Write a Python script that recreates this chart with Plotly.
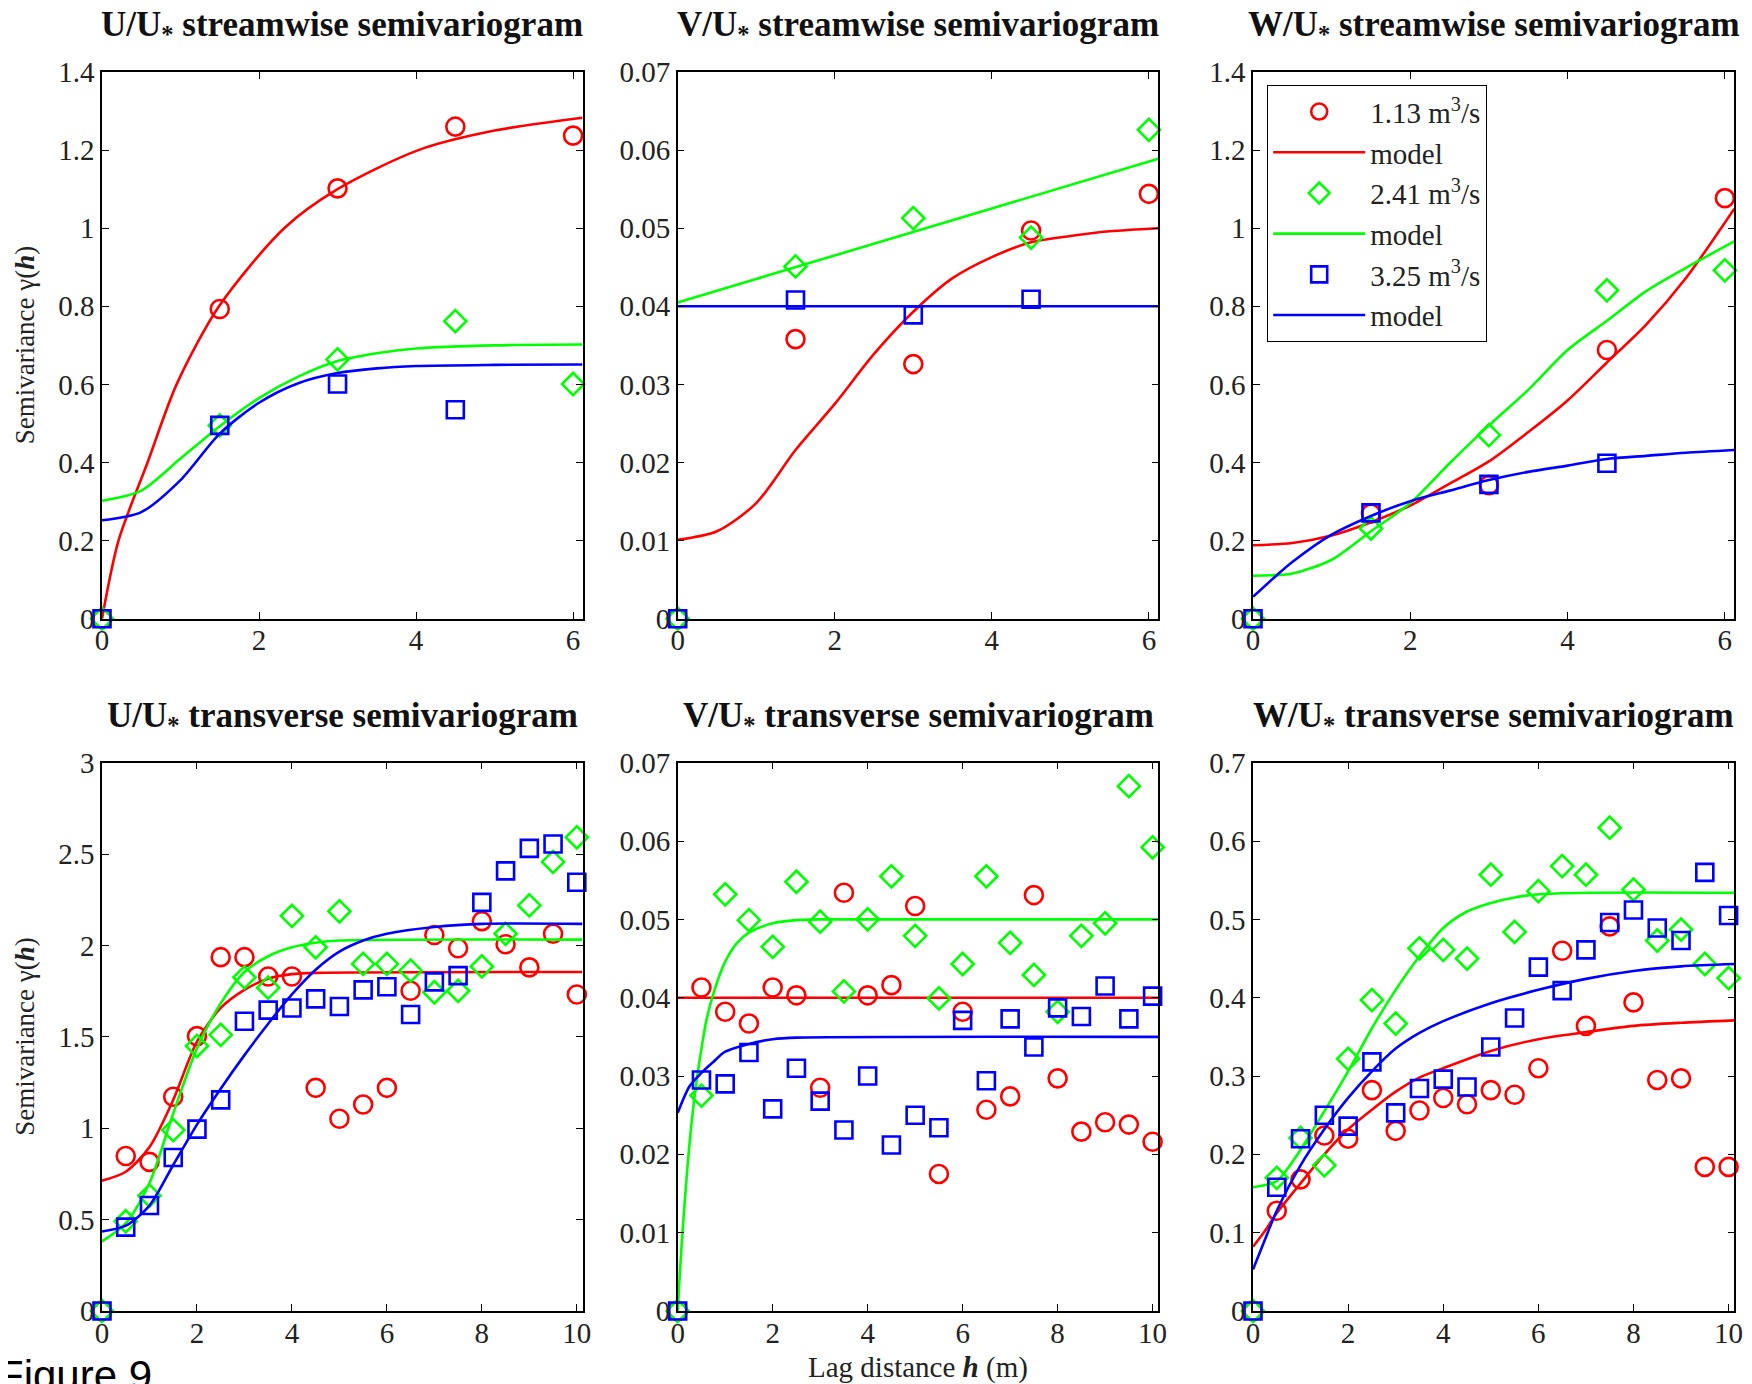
import plotly.graph_objects as go

# ---------------- data ----------------
lag_s = [0, 1.5, 3, 4.5, 6]          # streamwise lags (m)
lag_t = [0, 0.5, 1, 1.5, 2, 2.5, 3, 3.5, 4, 4.5, 5, 5.5, 6, 6.5, 7, 7.5, 8, 8.5, 9, 9.5, 10]

series_names = ["1.13 m<sup>3</sup>/s", "2.41 m<sup>3</sup>/s", "3.25 m<sup>3</sup>/s"]

# U/U* streamwise
u_s_red = [0, 0.793, 1.102, 1.26, 1.237]
u_s_green = [0, 0.495, 0.664, 0.762, 0.601]
u_s_blue = [0, 0.495, 0.601, 0.535]
u_s_red_mh = [0, 0.21, 0.58, 0.95, 1.49, 2.32, 3.0, 4.03, 5.0, 6.12]
u_s_red_m = [0, 0.2, 0.4, 0.6, 0.8, 1.0, 1.1, 1.2, 1.25, 1.283]
u_s_green_mh = [0, 0.5, 1.0, 1.5, 2.0, 2.5, 3.0, 3.5, 4.0, 5.0, 6.12]
u_s_green_m = [0.302, 0.328, 0.410, 0.493, 0.565, 0.620, 0.660, 0.680, 0.692, 0.700, 0.702]
u_s_blue_mh = [0, 0.5, 1.0, 1.5, 2.0, 2.5, 3.0, 3.5, 4.0, 5.0, 6.12]
u_s_blue_m = [0.252, 0.273, 0.355, 0.474, 0.553, 0.603, 0.629, 0.641, 0.647, 0.650, 0.651]

# V/U* streamwise
v_s_red = [0, 0.0358, 0.0326, 0.0497, 0.0544]
v_s_green = [0, 0.0451, 0.0513, 0.0488, 0.0626]
v_s_blue = [0, 0.0408, 0.0389, 0.0409]
v_s_red_mh = [0, 0.5, 1.0, 1.5, 2.0, 2.5, 3.0, 3.5, 4.0, 4.5, 5.0, 5.5, 6.12]
v_s_red_m = [0.0101, 0.0112, 0.0148, 0.0216, 0.0275, 0.0339, 0.0393, 0.0436, 0.0463, 0.0482, 0.0490, 0.0496, 0.0500]
v_s_green_mh = [0, 6.12]
v_s_green_m = [0.0405, 0.0589]
v_s_blue_mh = [0, 6.12]
v_s_blue_m = [0.0400, 0.0400]

# W/U* streamwise
w_s_red = [0, 0.269, 0.342, 0.688, 1.077]
w_s_green = [0, 0.231, 0.470, 0.841, 0.892]
w_s_blue = [0, 0.271, 0.344, 0.398]
w_s_red_mh = [0, 0.5, 1.0, 1.5, 2.0, 2.5, 3.0, 3.5, 4.0, 4.5, 5.0, 5.5, 6.12]
w_s_red_m = [0.188, 0.194, 0.213, 0.247, 0.290, 0.346, 0.403, 0.478, 0.559, 0.656, 0.753, 0.871, 1.050]
w_s_green_mh = [0, 0.5, 1.0, 1.5, 2.0, 2.5, 3.0, 3.5, 4.0, 4.5, 5.0, 5.5, 6.12]
w_s_green_m = [0.110, 0.116, 0.151, 0.224, 0.296, 0.398, 0.495, 0.586, 0.688, 0.763, 0.839, 0.898, 0.966]
w_s_blue_mh = [0, 0.25, 0.5, 1.0, 1.5, 2.0, 2.5, 3.0, 3.5, 4.0, 4.5, 5.0, 5.5, 6.12]
w_s_blue_m = [0.056, 0.102, 0.145, 0.215, 0.263, 0.301, 0.328, 0.355, 0.376, 0.392, 0.409, 0.417, 0.425, 0.432]

# U/U* transverse
u_t_red = [0, 0.848, 0.816, 1.172, 1.504, 1.936, 1.936, 1.830, 1.830, 1.221, 1.052, 1.130, 1.221, 1.752, 2.057, 1.985, 2.133, 2.007, 1.880, 2.064, 1.732]
u_t_green = [0, 0.491, 0.631, 0.990, 1.450, 1.511, 1.826, 1.769, 2.162, 1.990, 2.187, 1.899, 1.899, 1.862, 1.744, 1.752, 1.885, 2.064, 2.219, 2.457, 2.592]
u_t_blue = [0, 0.459, 0.577, 0.840, 0.995, 1.155, 1.585, 1.646, 1.658, 1.708, 1.666, 1.757, 1.774, 1.622, 1.801, 1.835, 2.236, 2.408, 2.531, 2.555, 2.346]
u_t_red_mh = [0, 0.5, 1.0, 1.5, 2.0, 2.5, 3.0, 3.5, 4.0, 4.5, 10.12]
u_t_red_m = [0.713, 0.762, 0.897, 1.155, 1.474, 1.658, 1.757, 1.818, 1.843, 1.850, 1.855]
u_t_green_mh = [0, 0.5, 1.0, 1.5, 2.0, 2.5, 3.0, 3.5, 4.0, 4.5, 5.0, 10.12]
u_t_green_m = [0.381, 0.479, 0.700, 1.081, 1.437, 1.683, 1.855, 1.941, 1.990, 2.015, 2.027, 2.032]
u_t_blue_mh = [0, 0.5, 1.0, 1.5, 2.0, 2.5, 3.0, 3.5, 4.0, 4.5, 5.0, 5.5, 6.0, 7.0, 8.0, 10.12]
u_t_blue_m = [0.435, 0.467, 0.577, 0.799, 1.020, 1.216, 1.400, 1.572, 1.732, 1.867, 1.966, 2.027, 2.064, 2.101, 2.118, 2.118]

# V/U* transverse
v_t_red = [0, 0.0413, 0.0382, 0.0367, 0.0413, 0.0403, 0.0285, 0.0534, 0.0403, 0.0416, 0.0517, 0.0175, 0.0382, 0.0257, 0.0274, 0.0531, 0.0297, 0.0229, 0.0241, 0.0238, 0.0216]
v_t_green = [0, 0.0275, 0.0532, 0.0499, 0.0465, 0.0548, 0.0497, 0.0408, 0.0500, 0.0555, 0.0479, 0.0399, 0.0443, 0.0555, 0.0470, 0.0429, 0.0382, 0.0479, 0.0495, 0.0670, 0.0592]
v_t_blue = [0, 0.0295, 0.0290, 0.0330, 0.0258, 0.0310, 0.0268, 0.0231, 0.0300, 0.0212, 0.0250, 0.0234, 0.0371, 0.0294, 0.0373, 0.0337, 0.0387, 0.0376, 0.0415, 0.0373, 0.0402]
v_t_red_mh = [0, 10.12]
v_t_red_m = [0.0400, 0.0400]
v_t_green_mh = [0, 0.05, 0.1, 0.2, 0.3, 0.4, 0.5, 0.6, 0.75, 1.0, 1.25, 1.5, 2.0, 2.5, 3.0, 10.12]
v_t_green_m = [0, 0.0053, 0.0100, 0.0180, 0.0245, 0.0295, 0.0335, 0.0370, 0.0405, 0.0446, 0.0470, 0.0483, 0.0495, 0.0499, 0.0500, 0.0500]
v_t_blue_mh = [0, 0.25, 0.5, 0.75, 1.0, 1.5, 2.0, 2.5, 10.12]
v_t_blue_m = [0.0253, 0.0287, 0.0304, 0.0318, 0.0331, 0.0341, 0.0347, 0.0349, 0.0350]

# W/U* transverse
w_t_red = [0, 0.128, 0.168, 0.224, 0.220, 0.282, 0.230, 0.256, 0.272, 0.264, 0.282, 0.276, 0.310, 0.460, 0.364, 0.491, 0.394, 0.295, 0.297, 0.184, 0.184]
w_t_green = [0, 0.170, 0.221, 0.186, 0.322, 0.397, 0.367, 0.463, 0.461, 0.450, 0.557, 0.484, 0.536, 0.568, 0.557, 0.617, 0.538, 0.473, 0.487, 0.443, 0.425]
w_t_blue = [0, 0.158, 0.220, 0.250, 0.236, 0.318, 0.253, 0.284, 0.296, 0.286, 0.337, 0.374, 0.439, 0.409, 0.461, 0.496, 0.512, 0.489, 0.473, 0.560, 0.505]
w_t_red_mh = [0, 0.25, 0.5, 1.0, 1.5, 2.0, 2.5, 3.0, 3.5, 4.0, 5.0, 6.0, 7.0, 8.0, 9.0, 10.12]
w_t_red_m = [0.082, 0.102, 0.125, 0.163, 0.200, 0.232, 0.257, 0.280, 0.298, 0.310, 0.332, 0.347, 0.356, 0.364, 0.368, 0.371]
w_t_green_mh = [0, 0.5, 1.0, 1.5, 2.0, 2.5, 3.0, 3.5, 4.0, 4.5, 5.0, 5.5, 6.0, 7.0, 10.12]
w_t_green_m = [0.158, 0.166, 0.206, 0.255, 0.306, 0.361, 0.410, 0.453, 0.489, 0.510, 0.521, 0.528, 0.532, 0.534, 0.534]
w_t_blue_mh = [0, 0.25, 0.5, 1.0, 1.5, 2.0, 2.5, 3.0, 3.5, 4.0, 5.0, 6.0, 7.0, 8.0, 9.0, 10.12]
w_t_blue_m = [0.053, 0.091, 0.128, 0.186, 0.232, 0.272, 0.306, 0.335, 0.355, 0.370, 0.393, 0.410, 0.424, 0.434, 0.440, 0.443]

titles = ["U/U<sub>*</sub> streamwise semivariogram", "V/U<sub>*</sub> streamwise semivariogram",
          "W/U<sub>*</sub> streamwise semivariogram", "U/U<sub>*</sub> transverse semivariogram",
          "V/U<sub>*</sub> transverse semivariogram", "W/U<sub>*</sub> transverse semivariogram"]
y_max = [1.4, 0.07, 1.4, 3, 0.07, 0.7]
y_dtick = [0.2, 0.01, 0.2, 0.5, 0.01, 0.1]
x_max = [6.12, 6.12, 6.12, 10.12, 10.12, 10.12]

panels = [
    (lag_s, [u_s_red, u_s_green, u_s_blue],
     [(u_s_red_mh, u_s_red_m), (u_s_green_mh, u_s_green_m), (u_s_blue_mh, u_s_blue_m)]),
    (lag_s, [v_s_red, v_s_green, v_s_blue],
     [(v_s_red_mh, v_s_red_m), (v_s_green_mh, v_s_green_m), (v_s_blue_mh, v_s_blue_m)]),
    (lag_s, [w_s_red, w_s_green, w_s_blue],
     [(w_s_red_mh, w_s_red_m), (w_s_green_mh, w_s_green_m), (w_s_blue_mh, w_s_blue_m)]),
    (lag_t, [u_t_red, u_t_green, u_t_blue],
     [(u_t_red_mh, u_t_red_m), (u_t_green_mh, u_t_green_m), (u_t_blue_mh, u_t_blue_m)]),
    (lag_t, [v_t_red, v_t_green, v_t_blue],
     [(v_t_red_mh, v_t_red_m), (v_t_green_mh, v_t_green_m), (v_t_blue_mh, v_t_blue_m)]),
    (lag_t, [w_t_red, w_t_green, w_t_blue],
     [(w_t_red_mh, w_t_red_m), (w_t_green_mh, w_t_green_m), (w_t_blue_mh, w_t_blue_m)]),
]

# ---------------- style ----------------
OFF = 8                      # page body margin of the html page
W, H = 1752 - OFF, 1384 - OFF


def px_x(p):
    return (p - OFF) / W


def px_y(p):
    return 1 - (p - OFF) / H


colors = ["#FF0000", "#00FF00", "#0000FF"]
symbols = ["circle-open", "diamond-open", "square-open"]
msizes = [18, 17, 17]
SERIF = "Liberation Serif"

col_px = [(102, 582.5), (677.7, 1158.3), (1253, 1734.3)]
row_px = [(72, 618.7), (762.7, 1311)]

fig = go.Figure()
layout = dict()
annotations = []

for i, (lags, pts, models) in enumerate(panels):
    r, c = divmod(i, 3)
    n = i + 1
    xa = "x" if n == 1 else f"x{n}"
    ya = "y" if n == 1 else f"y{n}"
    for k in range(3):
        xs = lags[:len(pts[k])]
        fig.add_trace(go.Scatter(
            x=xs, y=pts[k], mode="markers", xaxis=xa, yaxis=ya,
            marker=dict(symbol=symbols[k], size=msizes[k], color=colors[k],
                        line=dict(width=2.6, color=colors[k])),
            cliponaxis=False, name=series_names[k],
            showlegend=(n == 3)))
        mh, mv = models[k]
        fig.add_trace(go.Scatter(
            x=mh, y=mv, mode="lines", xaxis=xa, yaxis=ya,
            line=dict(color=colors[k], width=2.6, shape="spline", smoothing=0.8),
            name="model", showlegend=(n == 3)))

    x0, x1 = col_px[c]
    y0, y1 = row_px[r]
    axcommon = dict(showline=True, linecolor="black", linewidth=1.5, mirror="allticks",
                    ticks="inside", ticklen=7, tickwidth=1.2, tickcolor="black",
                    showgrid=False, zeroline=False, automargin=False,
                    tickfont=dict(family=SERIF, size=29, color="#222222"))
    layout["xaxis" if n == 1 else f"xaxis{n}"] = dict(
        domain=[px_x(x0), px_x(x1)], range=[0, x_max[i]], dtick=2, tick0=0,
        anchor=ya, ticklabelstandoff=-5, **axcommon)
    layout["yaxis" if n == 1 else f"yaxis{n}"] = dict(
        domain=[px_y(y1), px_y(y0)], range=[0, y_max[i]], dtick=y_dtick[i], tick0=0,
        anchor=xa, **axcommon)

    ty = 27 if r == 0 else 717
    annotations.append(dict(
        text="<b>" + titles[i] + "</b>", x=px_x((x0 + x1) / 2), y=px_y(ty),
        xref="paper", yref="paper", xanchor="center", yanchor="middle", showarrow=False,
        font=dict(family=SERIF, size=35, color="#111111")))

# axis labels
for yc in [(72 + 618.7) / 2, (762.7 + 1311) / 2]:
    annotations.append(dict(
        text="Semivariance γ(<b><i>h</i></b>)", x=px_x(25), y=px_y(yc),
        xref="paper", yref="paper", xanchor="center", yanchor="middle", showarrow=False,
        textangle=-90, font=dict(family=SERIF, size=27, color="#222222")))
annotations.append(dict(
    text="Lag distance <b><i>h</i></b> (m)", x=px_x((677.7 + 1158.3) / 2), y=px_y(1367),
    xref="paper", yref="paper", xanchor="center", yanchor="middle", showarrow=False,
    font=dict(family=SERIF, size=29, color="#222222")))
annotations.append(dict(
    text="Figure 9", x=-12 / W, y=1 - 1342 / H,
    xref="paper", yref="paper", xanchor="left", yanchor="top", showarrow=False,
    font=dict(family="Liberation Sans", size=42, color="black")))

fig.update_layout(
    **layout,
    width=W, height=H, margin=dict(l=0, r=0, t=0, b=0, autoexpand=False),
    paper_bgcolor="white", plot_bgcolor="white",
    annotations=annotations,
    legend=dict(x=px_x(1267), y=px_y(85), xanchor="left", yanchor="top",
                bgcolor="white", bordercolor="black", borderwidth=1.2,
                font=dict(family=SERIF, size=29, color="#222222"),
                itemwidth=92, traceorder="normal"),
)

fig.write_html("out.html")
